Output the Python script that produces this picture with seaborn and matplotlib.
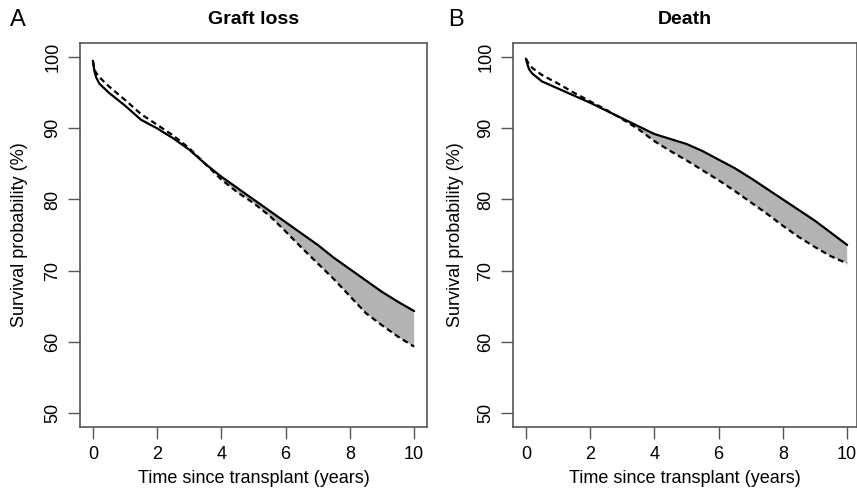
import numpy as np
import pandas as pd
import matplotlib
matplotlib.use("Agg")
import matplotlib.pyplot as plt
import seaborn as sns

# ---- data ----
time_years = [0, 0.05, 0.1, 0.2, 0.5, 1, 1.5, 2, 2.5, 3, 3.5, 4, 4.5, 5,
              5.5, 6, 6.5, 7, 7.5, 8, 8.5, 9, 9.5, 10]

graft_solid = [99.5, 98.0, 97.2, 96.3, 95.0, 93.2, 91.2, 90.0, 88.6, 87.0,
               85.0, 83.2, 81.6, 80.0, 78.4, 76.8, 75.2, 73.6, 71.8, 70.2,
               68.6, 67.0, 65.6, 64.3]
graft_dashed = [99.5, 98.3, 97.8, 97.2, 95.9, 94.0, 92.0, 90.5, 89.0, 87.2,
                85.0, 82.8, 81.0, 79.5, 77.7, 75.5, 73.2, 71.0, 68.8, 66.4,
                64.0, 62.3, 60.7, 59.3]

death_solid = [99.8, 99.0, 98.3, 97.7, 96.6, 95.6, 94.6, 93.6, 92.5, 91.4,
               90.3, 89.2, 88.5, 87.8, 86.8, 85.6, 84.4, 83.0, 81.5, 80.0,
               78.5, 77.0, 75.3, 73.6]
death_dashed = [99.8, 99.4, 99.0, 98.5, 97.5, 96.3, 95.0, 93.8, 92.6, 91.3,
                89.9, 88.2, 86.8, 85.5, 84.1, 82.7, 81.2, 79.6, 78.0, 76.3,
                74.7, 73.3, 72.0, 71.0]

panels = [("A", "Graft loss", graft_solid, graft_dashed),
          ("B", "Death", death_solid, death_dashed)]
x_ticks = [0, 2, 4, 6, 8, 10]
y_ticks = [50, 60, 70, 80, 90, 100]

sns.set_style("white")
plt.rcParams["font.family"] = ["Liberation Sans Narrow", "Liberation Sans", "DejaVu Sans"]
plt.rcParams["text.color"] = "black"

W, H = 857, 490
fig = plt.figure(figsize=(W / 100, H / 100), dpi=100)

boxes = [(80, 43, 427, 427), (513, 43, 857, 427)]
letter_x = [18, 456]
ylab_x = [20, 456]

edge = "#555555"
for (letter, title, solid, dashed), (x0, y0, x1, y1), lx, yx in zip(panels, boxes, letter_x, ylab_x):
    ax = fig.add_axes([x0 / W, 1 - y1 / H, (x1 - x0) / W, (y1 - y0) / H])
    df = pd.DataFrame({
        "time": time_years * 2,
        "surv": solid + dashed,
        "group": ["solid"] * len(time_years) + ["dashed"] * len(time_years),
    })
    t = np.array(time_years)
    s = np.array(solid)
    d = np.array(dashed)
    ax.fill_between(t, s, d, where=d <= s, interpolate=True,
                    facecolor="#b3b3b3", edgecolor="none", zorder=1)
    sns.lineplot(data=df, x="time", y="surv", style="group",
                 dashes={"solid": "", "dashed": (2.6, 1.7)},
                 color="black", linewidth=1.6, legend=False, ax=ax, zorder=3)

    ax.set_xlim(-0.4, -0.4 + 10.8 * (x1 - x0) / 347)
    ax.set_ylim(48, 102)
    ax.set_xticks(x_ticks)
    ax.set_xticklabels([str(v) for v in x_ticks], fontsize=13)
    ax.set_yticks(y_ticks)
    ax.set_yticklabels([str(v) for v in y_ticks], fontsize=13, rotation=90, va="center")
    ax.tick_params(axis="both", direction="out", length=8.5, width=1.0,
                   color=edge, labelcolor="black", pad=5)
    ax.tick_params(axis="x", bottom=True)
    ax.tick_params(axis="y", left=True)
    for sp in ax.spines.values():
        sp.set_visible(True)
        sp.set_color(edge)
        sp.set_linewidth(1.2)
    ax.set_xlabel("")
    ax.set_ylabel("")

    cx = (x0 + x1) / 2
    fig.text(cx / W, 1 - 478 / H, "Time since transplant (years)", ha="center",
             va="center", fontsize=13, color="black")
    fig.text(yx / W, 1 - (y0 + y1) / 2 / H, "Survival probability (%)", ha="center",
             va="center", rotation=90, fontsize=13, color="black")
    fig.text(cx / W, 1 - 20 / H, title, ha="center", va="center",
             fontsize=14, fontweight="bold", color="black")
    fig.text(lx / W, 1 - 20 / H, letter, ha="center", va="center", fontsize=17,
             color="black")

fig.savefig("out.png", dpi=100)
